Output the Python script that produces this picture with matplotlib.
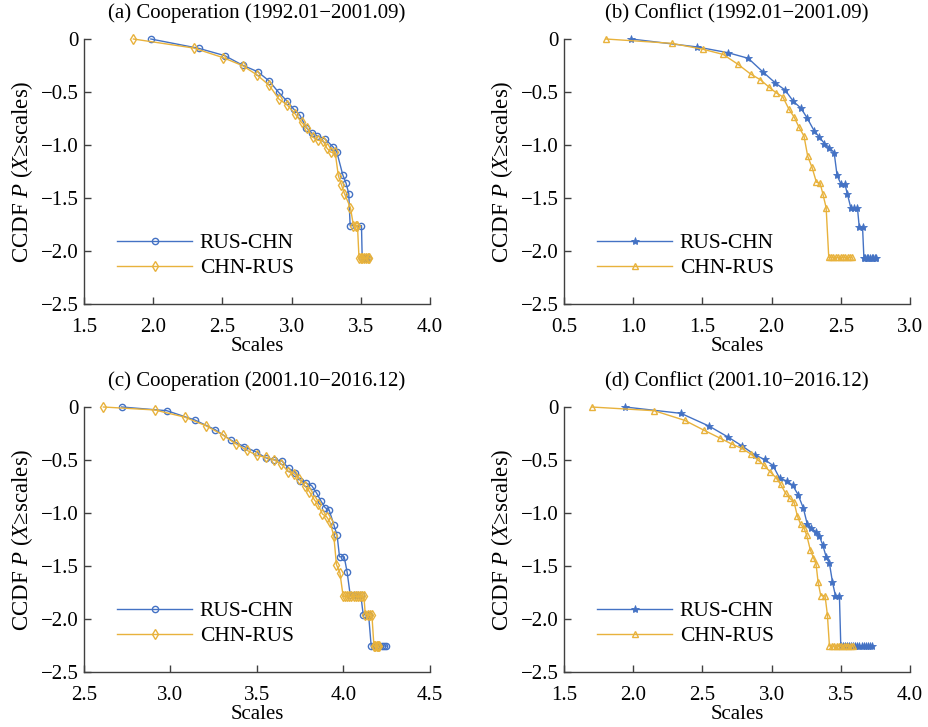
import numpy as np
import matplotlib
matplotlib.use('Agg')
import matplotlib.pyplot as plt

plt.rcParams['font.family'] = ['Liberation Serif', 'DejaVu Serif']
plt.rcParams['mathtext.fontset'] = 'custom'
plt.rcParams['mathtext.rm'] = 'Liberation Serif'
plt.rcParams['mathtext.it'] = 'Liberation Serif:italic'

BLUE = '#4472C4'
GOLD = '#E8B23C'

####################################################################################################
# Data (log10 CCDF vs scales)

# (a) Cooperation 1992.01-2001.09
a_rus_x = [1.983, 2.329, 2.517, 2.647, 2.754, 2.838, 2.906, 2.964, 3.017, 3.060, 3.106, 3.145, 3.181,
           3.242, 3.300, 3.326, 3.370, 3.394, 3.413, 3.423, 3.505, 3.510, 3.520, 3.530, 3.540, 3.550]
a_rus_y = [0, -0.088, -0.157, -0.248, -0.308, -0.396, -0.503, -0.582, -0.664, -0.720, -0.836, -0.887, -0.912,
           -0.943, -1.019, -1.063, -1.283, -1.362, -1.459, -1.761, -1.761, -2.066, -2.066, -2.066, -2.066, -2.066]
a_chn_x = [1.857, 2.292, 2.505, 2.647, 2.751, 2.838, 2.908, 2.969, 3.024, 3.072, 3.114, 3.152, 3.191,
           3.227, 3.256, 3.285, 3.314, 3.338, 3.360, 3.382, 3.425, 3.447, 3.462, 3.476, 3.487, 3.500,
           3.512, 3.525, 3.538, 3.550, 3.562]
a_chn_y = [0, -0.085, -0.176, -0.252, -0.340, -0.437, -0.566, -0.623, -0.704, -0.786, -0.843, -0.925, -0.956,
           -0.959, -1.031, -1.069, -1.063, -1.292, -1.374, -1.459, -1.591, -1.761, -1.761, -1.761, -2.066, -2.066,
           -2.066, -2.066, -2.066, -2.066, -2.066]

# (b) Conflict 1992.01-2001.09
b_rus_x = [0.986, 1.462, 1.684, 1.831, 1.935, 2.027, 2.097, 2.157, 2.213, 2.258, 2.307, 2.345, 2.382,
           2.418, 2.452, 2.473, 2.500, 2.529, 2.548, 2.572, 2.598, 2.620, 2.633, 2.657, 2.667, 2.678,
           2.689, 2.700, 2.711, 2.722, 2.733, 2.744, 2.755]
b_rus_y = [0, -0.075, -0.129, -0.182, -0.308, -0.415, -0.481, -0.588, -0.654, -0.748, -0.865, -0.925, -0.987,
           -1.025, -1.072, -1.286, -1.365, -1.365, -1.465, -1.591, -1.591, -1.591, -1.770, -1.770, -2.066, -2.066,
           -2.066, -2.066, -2.066, -2.066, -2.066, -2.066, -2.066]
b_chn_x = [0.802, 1.280, 1.504, 1.649, 1.754, 1.848, 1.918, 1.978, 2.034, 2.080, 2.126, 2.164, 2.198,
           2.234, 2.261, 2.292, 2.324, 2.350, 2.370, 2.394, 2.413, 2.430, 2.447, 2.464, 2.481, 2.498,
           2.515, 2.532, 2.549, 2.566, 2.578]
b_chn_y = [0, -0.041, -0.097, -0.145, -0.236, -0.330, -0.384, -0.450, -0.509, -0.544, -0.664, -0.739, -0.833,
           -0.915, -1.107, -1.211, -1.352, -1.358, -1.459, -1.591, -2.060, -2.060, -2.060, -2.060, -2.060, -2.060,
           -2.060, -2.060, -2.060, -2.060, -2.060]

# (c) Cooperation 2001.10-2016.12
c_rus_x = [2.718, 2.979, 3.141, 3.259, 3.352, 3.427, 3.494, 3.550, 3.597, 3.643, 3.685, 3.722, 3.751,
           3.786, 3.817, 3.843, 3.871, 3.894, 3.917, 3.944, 3.963, 3.977, 4.004, 4.021, 4.039, 4.060,
           4.080, 4.100, 4.114, 4.130, 4.145, 4.160, 4.175, 4.190, 4.205, 4.220, 4.235, 4.247]
c_rus_y = [0, -0.035, -0.123, -0.215, -0.315, -0.375, -0.423, -0.479, -0.498, -0.508, -0.580, -0.618, -0.694,
           -0.719, -0.744, -0.808, -0.890, -0.950, -0.972, -1.110, -1.211, -1.413, -1.413, -1.558, -1.776, -1.776,
           -1.776, -1.776, -1.959, -1.959, -1.959, -2.255, -2.255, -2.255, -2.255, -2.255, -2.255, -2.255]
c_chn_x = [2.612, 2.909, 3.081, 3.205, 3.301, 3.377, 3.444, 3.500, 3.550, 3.597, 3.641, 3.681, 3.716,
           3.743, 3.776, 3.803, 3.832, 3.851, 3.878, 3.902, 3.921, 3.944, 3.959, 3.979, 3.998, 4.010,
           4.022, 4.034, 4.046, 4.058, 4.070, 4.082, 4.094, 4.106, 4.118, 4.126, 4.140, 4.152, 4.164,
           4.176, 4.184, 4.192, 4.200, 4.205]
c_chn_y = [0, -0.028, -0.095, -0.177, -0.262, -0.347, -0.410, -0.457, -0.473, -0.498, -0.539, -0.609, -0.631,
           -0.675, -0.744, -0.798, -0.877, -0.915, -1.009, -1.035, -1.082, -1.215, -1.486, -1.562, -1.786, -1.786,
           -1.786, -1.786, -1.786, -1.786, -1.786, -1.786, -1.786, -1.786, -1.786, -1.959, -1.959, -1.959, -1.959,
           -2.255, -2.255, -2.255, -2.255, -2.255]

# (d) Conflict 2001.10-2016.12
d_rus_x = [1.942, 2.345, 2.548, 2.686, 2.785, 2.879, 2.949, 3.010, 3.058, 3.109, 3.152, 3.191, 3.229,
           3.258, 3.287, 3.319, 3.345, 3.370, 3.394, 3.418, 3.440, 3.461, 3.490, 3.500, 3.515, 3.530,
           3.545, 3.560, 3.575, 3.590, 3.605, 3.620, 3.635, 3.650, 3.665, 3.680, 3.695, 3.710, 3.729]
d_rus_y = [0, -0.060, -0.180, -0.284, -0.366, -0.451, -0.495, -0.552, -0.672, -0.697, -0.738, -0.826, -0.953,
           -1.107, -1.142, -1.177, -1.218, -1.303, -1.413, -1.476, -1.653, -1.779, -1.779, -2.255, -2.255, -2.255,
           -2.255, -2.255, -2.255, -2.255, -2.255, -2.255, -2.255, -2.255, -2.255, -2.255, -2.255, -2.255, -2.255]
d_chn_x = [1.700, 2.152, 2.372, 2.514, 2.626, 2.713, 2.785, 2.848, 2.899, 2.944, 2.990, 3.031, 3.065,
           3.101, 3.130, 3.162, 3.186, 3.210, 3.234, 3.254, 3.280, 3.302, 3.321, 3.336, 3.355, 3.386,
           3.403, 3.418, 3.435, 3.452, 3.469, 3.486, 3.503, 3.520, 3.537, 3.554, 3.571, 3.585]
d_chn_y = [0, -0.035, -0.126, -0.221, -0.293, -0.350, -0.391, -0.442, -0.498, -0.549, -0.612, -0.666, -0.729,
           -0.814, -0.861, -0.896, -1.028, -1.107, -1.142, -1.211, -1.350, -1.420, -1.479, -1.653, -1.779, -1.779,
           -1.959, -2.255, -2.255, -2.255, -2.255, -2.255, -2.255, -2.255, -2.255, -2.255, -2.255, -2.255]

titles = ['(a) Cooperation (1992.01\u22122001.09)', '(b) Conflict (1992.01\u22122001.09)',
          '(c) Cooperation (2001.10\u22122016.12)', '(d) Conflict (2001.10\u22122016.12)']
xlims = [(1.5, 4.0), (0.5, 3.0), (2.5, 4.5), (1.5, 4.0)]
labels = ['RUS-CHN', 'CHN-RUS']

###################################################################################################

fig = plt.figure(figsize=(9.29, 7.27), dpi=100)
W, H = 929., 727.
boxes = [(84, 304), (564, 304), (84, 672), (564, 672)]
axes = []
for (l, b) in boxes:
    axes.append(fig.add_axes([l / W, 1 - b / H, 346 / W, 265 / H]))

panels = [
    (a_rus_x, a_rus_y, 'o', a_chn_x, a_chn_y, 'd'),
    (b_rus_x, b_rus_y, '*', b_chn_x, b_chn_y, '^'),
    (c_rus_x, c_rus_y, 'o', c_chn_x, c_chn_y, 'd'),
    (d_rus_x, d_rus_y, '*', d_chn_x, d_chn_y, '^'),
]

fs = 15
for i, ax in enumerate(axes):
    rx, ry, rm, cx, cy, cm = panels[i]
    if rm == '*':
        ax.plot(rx, ry, color=BLUE, lw=1.0, marker='*', ms=6, mfc=BLUE, mec=BLUE, mew=0.6,
                label=labels[0], clip_on=False, zorder=3)
    else:
        ax.plot(rx, ry, color=BLUE, lw=1.0, marker='o', ms=4.5, mfc='none', mec=BLUE, mew=1.0,
                label=labels[0], clip_on=False, zorder=3)
    if cm == '^':
        ax.plot(cx, cy, color=GOLD, lw=1.0, marker='^', ms=5, mfc='none', mec=GOLD, mew=1.0,
                label=labels[1], clip_on=False, zorder=3)
    else:
        ax.plot(cx, cy, color=GOLD, lw=1.0, marker='d', ms=5, mfc='none', mec=GOLD, mew=1.0,
                label=labels[1], clip_on=False, zorder=4)

    ax.set_xlim(xlims[i])
    ax.set_ylim(-2.5, 0)
    ax.set_xticks(np.arange(xlims[i][0], xlims[i][1] + 0.01, 0.5))
    ax.set_yticks([0, -0.5, -1.0, -1.5, -2.0, -2.5])
    ax.set_yticklabels(['0', '\u22120.5', '\u22121.0', '\u22121.5', '\u22122.0', '\u22122.5'])
    ax.xaxis.set_major_formatter(matplotlib.ticker.FormatStrFormatter('%.1f'))
    ax.spines['top'].set_visible(False)
    ax.spines['right'].set_visible(False)
    for s in ['left', 'bottom']:
        ax.spines[s].set_color('#404040')
        ax.spines[s].set_linewidth(1.0)
    ax.tick_params(direction='in', length=5, width=1.0, color='#404040', labelsize=fs)
    ax.tick_params(axis='x', pad=10)
    ax.tick_params(axis='y', pad=4)
    ax.set_xlabel('Scales', fontsize=fs, labelpad=0)
    ax.set_ylabel(r'CCDF $P$ ($X$' + '\u2265' + 'scales)', fontsize=16.5, labelpad=4)
    ax.set_title(titles[i], fontsize=fs, pad=15)
    ax.legend(loc='lower left', bbox_to_anchor=(0.07, 0.065), frameon=False, fontsize=15.5,
              handlelength=3.5, numpoints=1, labelspacing=0.22, handletextpad=0.35, borderaxespad=0)

plt.savefig('out.png', dpi=100)
